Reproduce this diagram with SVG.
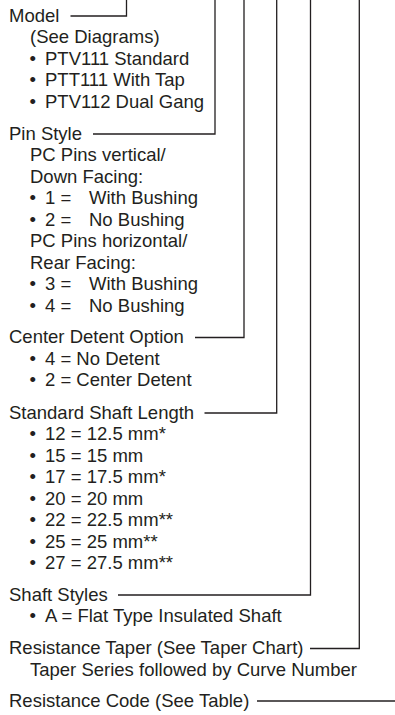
<svg xmlns="http://www.w3.org/2000/svg" width="395" height="715" viewBox="0 0 395 715">
<style>
text{font-family:"Liberation Sans",Arial,Helvetica,sans-serif;font-size:18.5px;fill:#231f20}
.c{fill:none;stroke:#231f20;stroke-width:1.3}
</style>
<rect width="395" height="715" fill="#fff"/>
<g id="connectors">
<polyline class="c" points="70.5,16 126.5,16 126.5,0"/>
<polyline class="c" points="93,134 215,134 215,0"/>
<polyline class="c" points="195,337.5 244,337.5 244,0"/>
<polyline class="c" points="204.5,413 276.7,413 276.7,0"/>
<polyline class="c" points="118,595 310.5,595 310.5,0"/>
<polyline class="c" points="310,648.5 359.3,648.5 359.3,0"/>
<line class="c" x1="257" y1="701" x2="395" y2="701"/>
</g>
<g id="model">
<text x="9" y="21.5">Model</text>
<text x="30" y="43">(See Diagrams)</text>
<text y="64.5"><tspan x="29.5">•</tspan><tspan x="45">PTV111 Standard</tspan></text>
<text y="86"><tspan x="29.5">•</tspan><tspan x="45">PTT111 With Tap</tspan></text>
<text y="107.5"><tspan x="29.5">•</tspan><tspan x="45">PTV112 Dual Gang</tspan></text>
</g>
<g id="pin-style">
<text x="9" y="139.5">Pin Style</text>
<text x="30" y="161">PC Pins vertical/</text>
<text x="30" y="182.5">Down Facing:</text>
<text y="204"><tspan x="29.5">•</tspan><tspan x="45">1 =</tspan><tspan x="89">With Bushing</tspan></text>
<text y="225.5"><tspan x="29.5">•</tspan><tspan x="45">2 =</tspan><tspan x="89">No Bushing</tspan></text>
<text x="30" y="247">PC Pins horizontal/</text>
<text x="30" y="268.5">Rear Facing:</text>
<text y="290"><tspan x="29.5">•</tspan><tspan x="45">3 =</tspan><tspan x="89">With Bushing</tspan></text>
<text y="311.5"><tspan x="29.5">•</tspan><tspan x="45">4 =</tspan><tspan x="89">No Bushing</tspan></text>
</g>
<g id="center-detent">
<text x="9" y="343">Center Detent Option</text>
<text y="364.5"><tspan x="29.5">•</tspan><tspan x="45">4 = No Detent</tspan></text>
<text y="386"><tspan x="29.5">•</tspan><tspan x="45">2 = Center Detent</tspan></text>
</g>
<g id="shaft-length">
<text x="9" y="418.5">Standard Shaft Length</text>
<text y="440"><tspan x="29.5">•</tspan><tspan x="45">12 = 12.5 mm*</tspan></text>
<text y="461.5"><tspan x="29.5">•</tspan><tspan x="45">15 = 15 mm</tspan></text>
<text y="483"><tspan x="29.5">•</tspan><tspan x="45">17 = 17.5 mm*</tspan></text>
<text y="504.5"><tspan x="29.5">•</tspan><tspan x="45">20 = 20 mm</tspan></text>
<text y="526"><tspan x="29.5">•</tspan><tspan x="45">22 = 22.5 mm**</tspan></text>
<text y="547.5"><tspan x="29.5">•</tspan><tspan x="45">25 = 25 mm**</tspan></text>
<text y="569"><tspan x="29.5">•</tspan><tspan x="45">27 = 27.5 mm**</tspan></text>
</g>
<g id="shaft-styles">
<text x="9" y="600.5">Shaft Styles</text>
<text y="622"><tspan x="29.5">•</tspan><tspan x="45">A = Flat Type Insulated Shaft</tspan></text>
</g>
<g id="resistance-taper">
<text x="9" y="654">Resistance Taper (See Taper Chart)</text>
<text x="30" y="675.5">Taper Series followed by Curve Number</text>
</g>
<g id="resistance-code">
<text x="9" y="706.5">Resistance Code (See Table)</text>
</g>
</svg>
